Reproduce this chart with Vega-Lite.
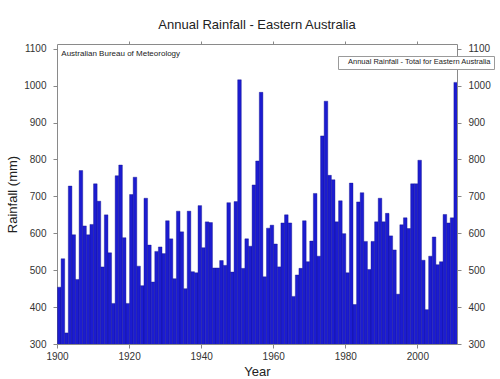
{
  "$schema": "https://vega.github.io/schema/vega-lite/v6.json",
  "width": 400,
  "height": 300,
  "autosize": {"type": "none"},
  "padding": {"left": 57, "top": 44, "right": 43, "bottom": 35},
  "background": "white",
  "title": {"text": "Annual Rainfall - Eastern Australia", "font": "Liberation Sans", "fontSize": 13, "fontWeight": "normal", "color": "#222222", "offset": 9, "anchor": "middle"},
  "config": {"view": {"stroke": "#8a8a8a", "strokeWidth": 1}, "font": "Liberation Sans"},
  "datasets": {
    "rain": [
      {"year":1900,"rainfall":454},{"year":1901,"rainfall":531},{"year":1902,"rainfall":330},{"year":1903,"rainfall":728},{"year":1904,"rainfall":596},
      {"year":1905,"rainfall":475},{"year":1906,"rainfall":770},{"year":1907,"rainfall":620},{"year":1908,"rainfall":596},{"year":1909,"rainfall":624},
      {"year":1910,"rainfall":734},{"year":1911,"rainfall":687},{"year":1912,"rainfall":509},{"year":1913,"rainfall":650},{"year":1914,"rainfall":547},
      {"year":1915,"rainfall":410},{"year":1916,"rainfall":756},{"year":1917,"rainfall":785},{"year":1918,"rainfall":588},{"year":1919,"rainfall":410},
      {"year":1920,"rainfall":705},{"year":1921,"rainfall":752},{"year":1922,"rainfall":511},{"year":1923,"rainfall":458},{"year":1924,"rainfall":695},
      {"year":1925,"rainfall":568},{"year":1926,"rainfall":468},{"year":1927,"rainfall":551},{"year":1928,"rainfall":563},{"year":1929,"rainfall":545},
      {"year":1930,"rainfall":634},{"year":1931,"rainfall":585},{"year":1932,"rainfall":477},{"year":1933,"rainfall":660},{"year":1934,"rainfall":604},
      {"year":1935,"rainfall":450},{"year":1936,"rainfall":660},{"year":1937,"rainfall":496},{"year":1938,"rainfall":493},{"year":1939,"rainfall":675},
      {"year":1940,"rainfall":561},{"year":1941,"rainfall":631},{"year":1942,"rainfall":629},{"year":1943,"rainfall":506},{"year":1944,"rainfall":506},
      {"year":1945,"rainfall":526},{"year":1946,"rainfall":513},{"year":1947,"rainfall":683},{"year":1948,"rainfall":495},{"year":1949,"rainfall":686},
      {"year":1950,"rainfall":1016},{"year":1951,"rainfall":505},{"year":1952,"rainfall":585},{"year":1953,"rainfall":565},{"year":1954,"rainfall":731},
      {"year":1955,"rainfall":796},{"year":1956,"rainfall":982},{"year":1957,"rainfall":482},{"year":1958,"rainfall":614},{"year":1959,"rainfall":622},
      {"year":1960,"rainfall":571},{"year":1961,"rainfall":509},{"year":1962,"rainfall":628},{"year":1963,"rainfall":650},{"year":1964,"rainfall":628},
      {"year":1965,"rainfall":429},{"year":1966,"rainfall":487},{"year":1967,"rainfall":505},{"year":1968,"rainfall":634},{"year":1969,"rainfall":523},
      {"year":1970,"rainfall":579},{"year":1971,"rainfall":708},{"year":1972,"rainfall":538},{"year":1973,"rainfall":864},{"year":1974,"rainfall":958},
      {"year":1975,"rainfall":757},{"year":1976,"rainfall":745},{"year":1977,"rainfall":631},{"year":1978,"rainfall":688},{"year":1979,"rainfall":599},
      {"year":1980,"rainfall":493},{"year":1981,"rainfall":736},{"year":1982,"rainfall":407},{"year":1983,"rainfall":685},{"year":1984,"rainfall":710},
      {"year":1985,"rainfall":578},{"year":1986,"rainfall":502},{"year":1987,"rainfall":578},{"year":1988,"rainfall":631},{"year":1989,"rainfall":695},
      {"year":1990,"rainfall":631},{"year":1991,"rainfall":654},{"year":1992,"rainfall":593},{"year":1993,"rainfall":555},{"year":1994,"rainfall":435},
      {"year":1995,"rainfall":623},{"year":1996,"rainfall":642},{"year":1997,"rainfall":613},{"year":1998,"rainfall":734},{"year":1999,"rainfall":734},
      {"year":2000,"rainfall":798},{"year":2001,"rainfall":527},{"year":2002,"rainfall":393},{"year":2003,"rainfall":538},{"year":2004,"rainfall":590},
      {"year":2005,"rainfall":515},{"year":2006,"rainfall":523},{"year":2007,"rainfall":651},{"year":2008,"rainfall":628},{"year":2009,"rainfall":642},
      {"year":2010,"rainfall":1009}
    ],
    "note": [{"label": "Australian Bureau of Meteorology", "year": 1901.2, "rainfall": 1085}]
  },
  "resolve": {"axis": {"x": "independent", "y": "independent"}},
  "layer": [
    {
      "data": {"name": "rain"},
      "mark": {"type": "bar", "binSpacing": 0, "stroke": "#12128a", "strokeWidth": 0.4, "clip": true},
      "encoding": {
        "x": {"field": "year", "type": "quantitative", "bin": {"binned": true, "step": 1},
              "scale": {"domain": [1900, 2011], "nice": false, "zero": false},
              "axis": {"orient": "bottom", "values": [1900, 1920, 1940, 1960, 1980, 2000], "format": "d", "labelFlush": false, "domain": false, "grid": false,
                       "tickSize": 4, "tickColor": "#888888", "labelFontSize": 10, "labelColor": "#333333", "labelPadding": 3,
                       "title": "Year", "titleFontSize": 13, "titleFontWeight": "normal", "titleColor": "#222222", "titlePadding": 4}},
        "y": {"field": "rainfall", "type": "quantitative",
              "scale": {"domain": [300, 1113], "nice": false, "zero": false},
              "axis": {"orient": "left", "values": [300, 400, 500, 600, 700, 800, 900, 1000, 1100], "format": "d", "labelFlush": false, "domain": false, "grid": false,
                       "tickSize": 4, "tickColor": "#888888", "labelFontSize": 10, "labelColor": "#333333", "labelPadding": 7,
                       "title": "Rainfall (mm)", "titleFontSize": 13, "titleFontWeight": "normal", "titleColor": "#222222", "titlePadding": 4}},
        "color": {"datum": "Annual Rainfall - Total for Eastern Australia", "type": "nominal",
                  "scale": {"range": ["#1c1cd0"]},
                  "legend": {"orient": "none", "legendX": 281, "legendY": 12, "title": null, "symbolSize": 0, "symbolStrokeWidth": 0,
                             "labelFontSize": 7.5, "labelColor": "#222222", "labelOffset": 0, "strokeColor": "#9a9a9a", "fillColor": "#ffffff", "padding": 2.5}}
      }
    },
    {
      "data": {"name": "note"},
      "mark": {"type": "text", "align": "left", "baseline": "middle", "font": "Liberation Sans", "fontSize": 8, "color": "#222222"},
      "encoding": {
        "text": {"field": "label"},
        "x": {"field": "year", "type": "quantitative", "scale": {"domain": [1900, 2011], "nice": false, "zero": false},
              "axis": {"orient": "top", "values": [1920, 1940, 1960, 1980, 2000], "labels": false, "domain": false, "grid": false, "tickSize": 3, "tickColor": "#888888", "title": null}},
        "y": {"field": "rainfall", "type": "quantitative", "scale": {"domain": [300, 1113], "nice": false, "zero": false},
              "axis": {"orient": "right", "values": [300, 400, 500, 600, 700, 800, 900, 1000, 1100], "format": "d", "labelFlush": false, "domain": false, "grid": false,
                       "tickSize": 4, "tickColor": "#888888", "labelFontSize": 10, "labelColor": "#333333", "labelPadding": 7, "title": null}}
      }
    }
  ]
}
